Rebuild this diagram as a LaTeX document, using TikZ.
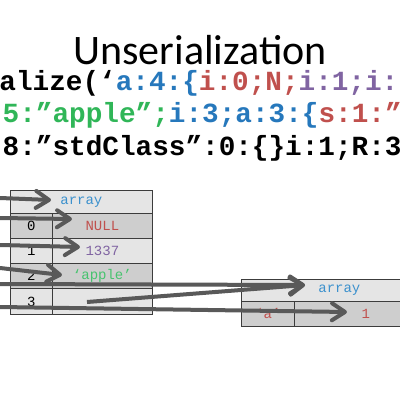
\documentclass[tikz,border=0pt]{standalone}
\usepackage{fontspec}
\setmainfont{Carlito}
\newfontfamily\codefont{Liberation Mono}
\usetikzlibrary{arrows.meta}
\definecolor{cblue}{RGB}{38,120,188}
\definecolor{cred}{RGB}{192,80,77}
\definecolor{cpurple}{RGB}{128,100,162}
\definecolor{cgreen}{RGB}{48,182,88}
\definecolor{tblue}{RGB}{60,145,205}
\definecolor{tgreen}{RGB}{70,195,110}
\definecolor{lightcell}{RGB}{229,229,229}
\definecolor{darkcell}{RGB}{206,206,206}
\definecolor{arrowgray}{RGB}{89,89,89}
\definecolor{edgegray}{RGB}{60,60,60}
\tikzset{
  codeline/.style={anchor=base west, inner sep=0pt, font=\codefont\bfseries\fontsize{27.7}{27.7}\selectfont},
  cell/.style={draw=edgegray, line width=0.8pt, anchor=north west, inner sep=0pt, font=\codefont\fontsize{14}{14}\selectfont},
  lightc/.style={cell, fill=lightcell},
  darkc/.style={cell, fill=darkcell},
  ptr/.style={draw=arrowgray, line width=4pt, -{Straight Barb[length=13pt, width=17pt, round]}}
}
\begin{document}
\begin{tikzpicture}[x=1pt,y=-1pt]
\useasboundingbox (0,0) rectangle (400,400);
\clip (0,0) rectangle (400,400);
\fill[white] (0,0) rectangle (400,400);
% title
\node[anchor=base, inner sep=0pt, font=\fontsize{42}{42}\selectfont] (title) at (200,64) {Unserialization};
% code lines
\node[codeline] (code1) at (-100.5,90) {unserialize(‘{\color{cblue}a:4:\{}{\color{cred}i:0;N;}{\color{cpurple}i:1;i:1337;}};
\node[codeline] (code2) at (2.5,122.5) {{\color{cgreen}5:”apple”;}{\color{cblue}i:3;a:3:\{}{\color{cred}s:1:”a”;}};
\node[codeline] (code3) at (2.5,155) {8:”stdClass”:0:\{\}i:1;R:3;\}\}’)};
% left table
\node[lightc, minimum width=142pt, minimum height=23pt, text=tblue] (lhead) at (10,190) {array};
\node[darkc, minimum width=42pt, minimum height=25pt] (li0) at (10,213) {0};
\node[darkc, minimum width=100pt, minimum height=25pt, text=cred] (lv0) at (52,213) {NULL};
\node[lightc, minimum width=42pt, minimum height=25pt] (li1) at (10,238) {1};
\node[lightc, minimum width=100pt, minimum height=25pt, text=cpurple] (lv1) at (52,238) {1337};
\node[darkc, minimum width=42pt, minimum height=25pt] (li2) at (10,263) {2};
\node[darkc, minimum width=100pt, minimum height=25pt, text=tgreen] (lv2) at (52,263) {‘apple’};
\node[lightc, minimum width=42pt, minimum height=26pt] (li3) at (10,288) {3};
\node[lightc, minimum width=100pt, minimum height=26pt] (lv3) at (52,288) {};
% right table
\node[lightc, minimum width=196pt, minimum height=22pt, text=tblue] (rhead) at (241,279) {array};
\node[darkc, minimum width=53pt, minimum height=25pt, text=cred] (ri0) at (241,301) {‘a’};
\node[darkc, minimum width=143pt, minimum height=25pt, text=cred] (rv0) at (294,301) {1};
% arrow end points
\coordinate (s1) at (0,198);
\coordinate (s2) at (0,218);
\coordinate (s3) at (0,245);
\coordinate (s4) at (0,268);
\coordinate (s5) at (0,284);
\coordinate (s6) at (87,302);
\coordinate (s7) at (0,307);
\coordinate (t1) at (51,200);
\coordinate (t2) at (72,219);
\coordinate (t3) at (80,247);
\coordinate (t4) at (62,275);
\coordinate (t5) at (305,285);
\coordinate (t7) at (347,312);
% arrows
\draw[ptr] (s1) -- (t1);
\draw[ptr] (s2) -- (t2);
\draw[ptr] (s3) -- (t3);
\draw[ptr] (s4) -- (t4);
\draw[ptr] (s5) -- (t5);
\draw[ptr] (s6) -- (t5);
\draw[ptr] (s7) -- (t7);
\end{tikzpicture}
\end{document}
